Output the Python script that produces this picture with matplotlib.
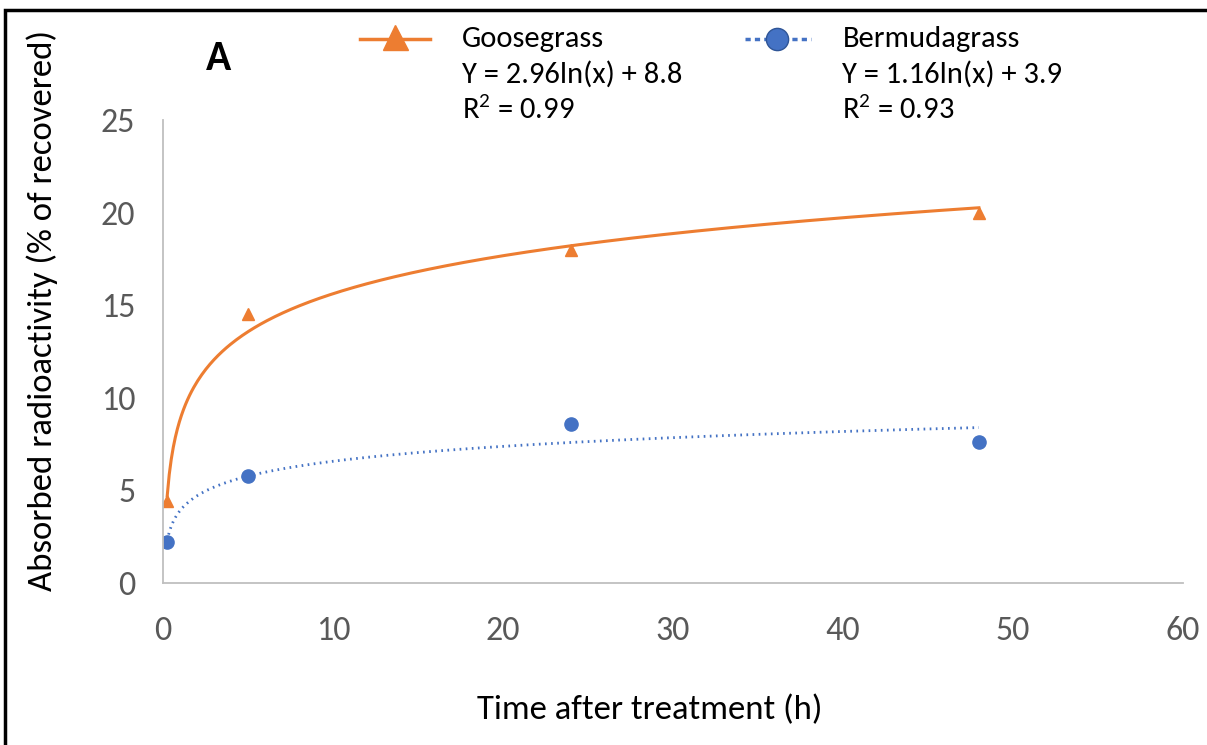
import numpy as np
import matplotlib.pyplot as plt
from matplotlib.lines import Line2D
from matplotlib.patches import Rectangle

plt.rcParams['font.family'] = ['Carlito', 'Liberation Sans Narrow', 'DejaVu Sans']
plt.rcParams['mathtext.fontset'] = 'custom'
plt.rcParams['mathtext.rm'] = 'Carlito'

# data
hours = [0.25, 5, 24, 48]
goose = [4.4, 14.5, 18.0, 20.0]
bermuda = [2.2, 5.8, 8.6, 7.6]

# trendline coefficients, as printed on the chart: y = a*ln(x) + b
goose_fit = (2.96, 8.8)
bermuda_fit = (1.16, 3.9)

orange = "#ED7D31"
blue = "#4472C4"

fig = plt.figure(figsize=(12.07, 7.45), dpi=100)
ax = fig.add_axes([0.135, 0.2175, 0.845, 0.6215])

xs = np.linspace(hours[0], hours[-1], 400)
ax.plot(xs, goose_fit[0] * np.log(xs) + goose_fit[1], color=orange, lw=2.2)
ax.plot(xs, bermuda_fit[0] * np.log(xs) + bermuda_fit[1], color=blue, lw=2, ls=(0, (0.6, 1.6)))
ax.plot(hours, goose, "^", color=orange, ms=9, ls="none")
ax.plot(hours, bermuda, "o", color=blue, ms=9.5, ls="none")

ax.set_xlim(0, 60)
ax.set_ylim(0, 25)
ax.set_xticks(range(0, 61, 10))
ax.set_yticks(range(0, 26, 5))
for s in ["top", "right"]:
    ax.spines[s].set_visible(False)
for s in ["left", "bottom"]:
    ax.spines[s].set_color("#BFBFBF")
    ax.spines[s].set_linewidth(1.3)
ax.tick_params(length=0, labelsize=24.5, colors="#595959")
ax.tick_params(axis="x", pad=24)
ax.tick_params(axis="y", pad=20)

fig.text(0.035, 0.583, "Absorbed radioactivity (% of recovered)", rotation=90,
         ha="center", va="center", fontsize=25)
fig.text(0.538, 0.047, "Time after treatment (h)", ha="center", va="center", fontsize=25)
fig.text(0.181, 0.922, "A", ha="center", va="center", fontsize=30, fontweight="bold")

# legend drawn by hand to match layout
fig.add_artist(Line2D([0.298, 0.356], [0.947, 0.947], color=orange, lw=2.5))
fig.add_artist(Line2D([0.327], [0.950], color=orange, marker="^", ms=18))
fig.add_artist(Line2D([0.617, 0.672], [0.947, 0.947], color=blue, lw=2.5,
                      ls=(0, (1.5, 1.2))))
fig.add_artist(Line2D([0.644], [0.947], color=blue, marker="o", ms=16,
                      markeredgecolor="#2F5597"))
lkw = dict(fontsize=22, va="center", ha="left")
fig.text(0.383, 0.947, "Goosegrass", **lkw)
fig.text(0.383, 0.900, "Y = 2.96ln(x) + 8.8", **lkw)
fig.text(0.383, 0.853, "R$^2$ = 0.99", **lkw)
fig.text(0.698, 0.947, "Bermudagrass", **lkw)
fig.text(0.698, 0.900, "Y = 1.16ln(x) + 3.9", **lkw)
fig.text(0.698, 0.853, "R$^2$ = 0.93", **lkw)

# outer frame
fig.add_artist(Rectangle((0.004, -0.01), 1.1, 0.997, transform=fig.transFigure,
                         fill=False, edgecolor="black", lw=2.5))

fig.savefig("out.png", dpi=100)
